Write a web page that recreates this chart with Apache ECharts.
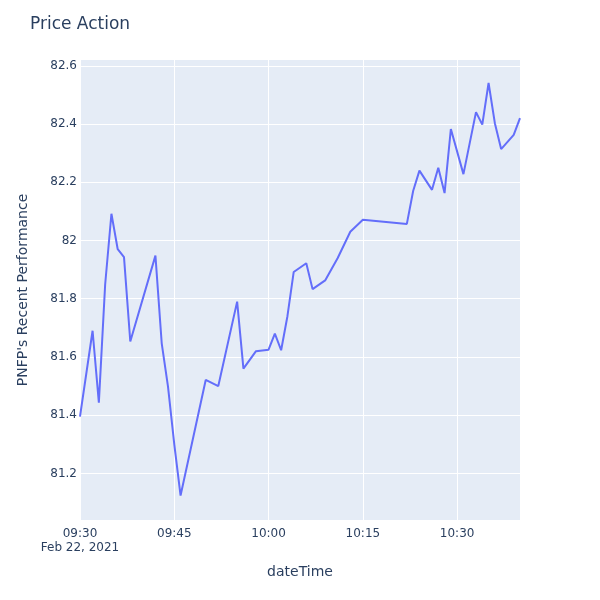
<!DOCTYPE html>
<html><head><meta charset="utf-8">
<script src="https://cdn.jsdelivr.net/npm/echarts@6/dist/echarts.min.js"></script>
<style>html,body{margin:0;padding:0;background:#fff}#c{width:600px;height:600px}</style>
</head><body><div id="c"></div>
<script>
const times = ["09:30","09:32","09:33","09:34","09:35","09:36","09:37","09:38","09:42","09:43","09:44","09:45","09:46","09:50","09:52","09:55","09:56","09:58","10:00","10:01","10:02","10:03","10:04","10:06","10:07","10:09","10:11","10:13","10:15","10:22","10:23","10:24","10:26","10:27","10:28","10:29","10:31","10:33","10:34","10:35","10:36","10:37","10:39","10:40"];
const prices = [81.395,81.69,81.443,81.848,82.092,81.97,81.943,81.653,81.948,81.647,81.498,81.30,81.124,81.521,81.50,81.79,81.56,81.62,81.625,81.68,81.623,81.74,81.892,81.922,81.833,81.863,81.94,82.03,82.071,82.057,82.17,82.24,82.174,82.25,82.163,82.383,82.228,82.441,82.398,82.541,82.403,82.314,82.363,82.42];
const xTickLabels = ["09:30","09:45","10:00","10:15","10:30"];
const yTicks = [81.2,81.4,81.6,81.8,82,82.2,82.4,82.6];
const dateLabel = "Feb 22, 2021";

function toMin(t){const [h,m]=t.split(":").map(Number);return (h*60+m)-(9*60+30);}
function fmtMin(v){const tot=9*60+30+v;const h=Math.floor(tot/60),m=tot%60;return String(h).padStart(2,"0")+":"+String(m).padStart(2,"0");}
const data = times.map((t,i)=>[toMin(t),prices[i]]);
const xTickVals = xTickLabels.map(toMin);

const font = "'DejaVu Sans', sans-serif";
const txt = "#2a3f5f";
const chart = echarts.init(document.getElementById('c'), null, {renderer:'canvas'});
chart.setOption({
  animation:false,
  backgroundColor:'#fff',
  title:{text:'Price Action',left:30,top:16,padding:0,textStyle:{fontFamily:font,fontSize:17,fontWeight:'normal',color:txt}},
  grid:{left:80,right:80,top:60,bottom:80,show:true,backgroundColor:'#e5ecf6',borderWidth:0},
  xAxis:{type:'value',min:0,max:70,
    name:'dateTime',nameLocation:'middle',nameGap:45,
    nameTextStyle:{fontFamily:font,fontSize:14,color:txt},
    axisLine:{show:false},axisTick:{show:false,customValues:xTickVals},
    splitLine:{show:true,lineStyle:{color:'#fff',width:1}},
    axisLabel:{fontFamily:font,fontSize:12,color:txt,margin:7,lineHeight:14,customValues:xTickVals,
      formatter:v=>{const s=fmtMin(v);return v===0?s+"\n"+dateLabel:s;}}
  },
  yAxis:{type:'value',min:81.04,max:82.62,
    name:"PNFP's Recent Performance",nameLocation:'middle',nameGap:50,nameRotate:90,
    nameTextStyle:{fontFamily:font,fontSize:14,color:txt},
    axisLine:{show:false},
    axisTick:{show:false,customValues:yTicks},
    splitLine:{show:true,lineStyle:{color:'#fff',width:1}},
    axisLabel:{fontFamily:font,fontSize:12,color:txt,margin:3,customValues:yTicks,
      formatter:v=>{let s=(Math.round(v*10)/10).toFixed(1);return s.endsWith(".0")?s.slice(0,-2):s;}}
  },
  series:[{type:'line',data:data,showSymbol:false,symbol:'none',
    lineStyle:{color:'#636efa',width:2},itemStyle:{color:'#636efa'}}]
});
</script></body></html>
